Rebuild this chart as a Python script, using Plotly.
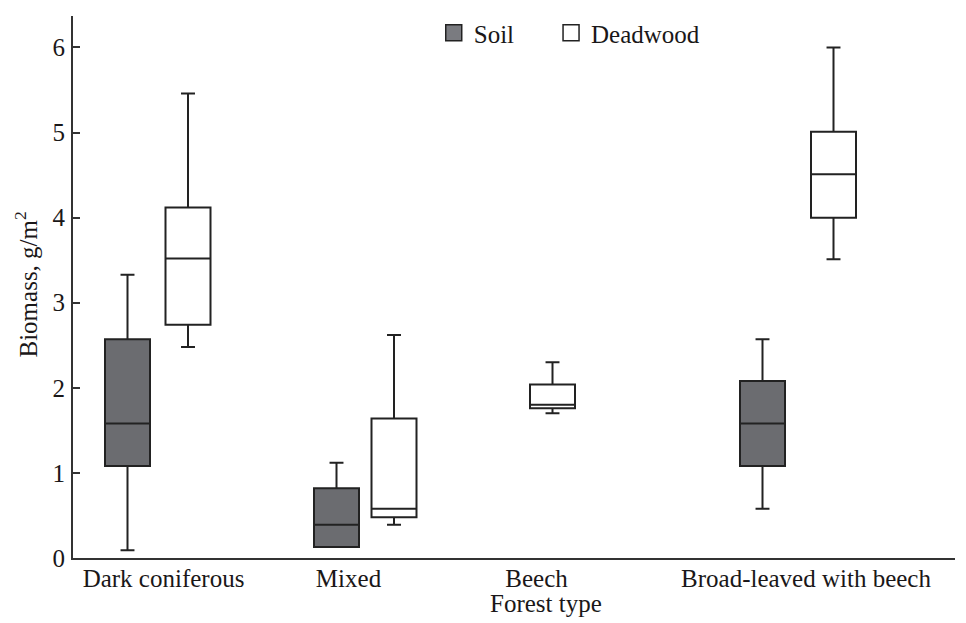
import plotly.graph_objects as go

# ---- data ----
categories = ["Dark coniferous", "Mixed", "Beech", "Broad-leaved with beech"]

# Soil boxes (Beech has no soil box)
soil_lower = [0.09, 0.13, None, 0.58]
soil_q1 = [1.08, 0.13, None, 1.08]
soil_median = [1.58, 0.39, None, 1.58]
soil_q3 = [2.57, 0.82, None, 2.08]
soil_upper = [3.33, 1.12, None, 2.57]

# Deadwood boxes
dead_lower = [2.48, 0.39, 1.70, 3.51]
dead_q1 = [2.74, 0.48, 1.76, 4.00]
dead_median = [3.52, 0.58, 1.80, 4.51]
dead_q3 = [4.12, 1.64, 2.04, 5.01]
dead_upper = [5.46, 2.62, 2.30, 6.00]

y_ticks = [0, 1, 2, 3, 4, 5, 6]

# ---- layout positions (x-axis units) ----
cat_label_pos = [90.5, 275.5, 463.5, 733]
soil_pos = [54.5, 263.5, None, 689.5]
dead_pos = [115, 321, 479.5, 760.5]
box_width = 45

FONT = "Liberation Serif"
INK = "#1a1718"
SOIL_FILL = "#6b6c70"
FS = 25

fig = go.Figure()

for i, cat in enumerate(categories):
    if soil_q1[i] is not None:
        fig.add_trace(go.Box(
            x=[soil_pos[i]], q1=[soil_q1[i]], median=[soil_median[i]], q3=[soil_q3[i]],
            lowerfence=[soil_lower[i]], upperfence=[soil_upper[i]],
            width=box_width, whiskerwidth=0.31, fillcolor=SOIL_FILL,
            line=dict(color="#222222", width=2), boxpoints=False,
            name="Soil", showlegend=False, hoverinfo="y"))
    fig.add_trace(go.Box(
        x=[dead_pos[i]], q1=[dead_q1[i]], median=[dead_median[i]], q3=[dead_q3[i]],
        lowerfence=[dead_lower[i]], upperfence=[dead_upper[i]],
        width=box_width, whiskerwidth=0.31, fillcolor="#ffffff",
        line=dict(color="#222222", width=2), boxpoints=False,
        name="Deadwood", showlegend=False, hoverinfo="y"))

# legend entries
fig.add_trace(go.Scatter(x=[None], y=[None], mode="markers", name="Soil", legend="legend",
                         marker=dict(symbol="square", size=18, color="#7a7b80",
                                     line=dict(color="#222222", width=1.5))))
fig.add_trace(go.Scatter(x=[None], y=[None], mode="markers", name="Deadwood", legend="legend2",
                         marker=dict(symbol="square", size=18, color="#ffffff",
                                     line=dict(color="#222222", width=1.5))))

legend_common = dict(orientation="h", xanchor="left", y=1.009, yanchor="top",
                     font=dict(family=FONT, size=FS, color=INK),
                     bgcolor="rgba(0,0,0,0)", itemclick=False)

fig.update_layout(
    width=966, height=623,
    margin=dict(l=73, r=11, t=15, b=65),
    paper_bgcolor="white", plot_bgcolor="white",
    font=dict(family=FONT, size=FS, color=INK),
    showlegend=True,
    legend=dict(x=0.409, **legend_common),
    legend2=dict(x=0.542, **legend_common),
    xaxis=dict(range=[0, 882], tickvals=cat_label_pos, ticktext=categories,
               showgrid=False, zeroline=False, showline=True, linecolor="#333333",
               linewidth=2, ticks="", ticklabelstandoff=-3,
               tickfont=dict(family=FONT, size=FS, color=INK)),
    yaxis=dict(range=[0, 6.37], tickvals=y_ticks, showgrid=False, zeroline=False,
               showline=True, linecolor="#333333", linewidth=2,
               ticks="inside", ticklen=7, tickwidth=1.5, tickcolor="#333333",
               ticklabelstandoff=1,
               tickfont=dict(family=FONT, size=FS, color=INK)),
    annotations=[
        dict(text="Forest type", xref="paper", yref="paper",
             x=(545.5 - 73) / 882, y=-(604 - 558) / 543, xanchor="center", yanchor="middle",
             showarrow=False, font=dict(family=FONT, size=FS, color=INK)),
        dict(text="Biomass, g/m<sup>2</sup>", xref="paper", yref="paper",
             x=-(73 - 26) / 882, y=(558 - 284) / 543, xanchor="center", yanchor="middle",
             textangle=-90, showarrow=False, font=dict(family=FONT, size=FS, color=INK)),
    ],
)

fig.write_html("out.html")
